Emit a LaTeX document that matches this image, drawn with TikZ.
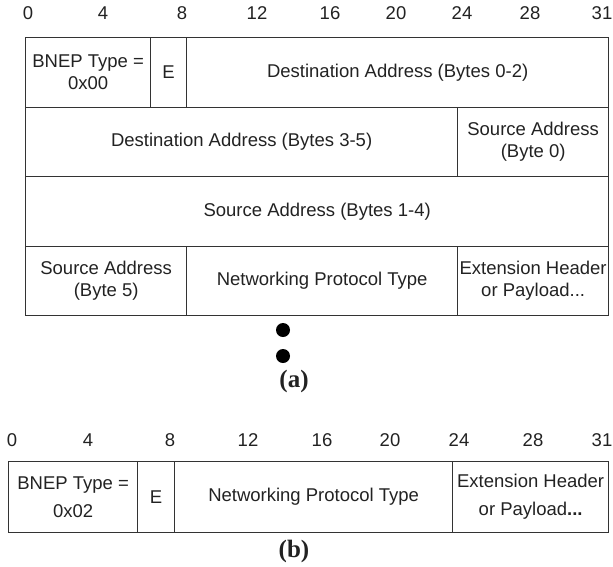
\documentclass[tikz,border=0pt]{standalone}
\usepackage{fontspec}
\setmainfont{Liberation Sans}
\newfontfamily\capfont{Liberation Serif}
\definecolor{linec}{HTML}{333333}
\definecolor{txtc}{HTML}{222222}
\begin{document}
\begin{tikzpicture}[x=1pt,y=-1pt,
  cell/.style={draw=linec, line width=1.3pt, anchor=north west, inner sep=0pt,
    align=center, text=txtc, font=\fontsize{18.5}{22}\selectfont},
  bitnum/.style={text=txtc, inner sep=0pt, font=\fontsize{18.5}{22}\selectfont},
  caplabel/.style={text=txtc, inner sep=0pt, font=\capfont\bfseries\fontsize{25}{28}\selectfont},
  dotmark/.style={circle, fill=black, inner sep=0pt, minimum size=14pt}
]
\useasboundingbox (0,0) rectangle (613,566);
% ---------- (a) ----------
\foreach \n/\x in {0/28,4/103,8/182,12/257,16/330,20/396,24/462,28/530,31/602}
  \node[bitnum] (na\n) at (\x,13) {\n};
\node[cell, minimum width=125pt, minimum height=69.5pt] (a11) at (25,37) {BNEP Type =\\0x00};
\node[cell, minimum width=36pt, minimum height=69.5pt] (a12) at (150,37) {E};
\node[cell, minimum width=422pt, minimum height=69.5pt] (a13) at (186,37) {Destination Address (Bytes 0-2)};
\node[cell, minimum width=432pt, minimum height=69.5pt] (a21) at (25,106.5) {Destination Address (Bytes 3-5)};
\node[cell, minimum width=151pt, minimum height=69.5pt] (a22) at (457,106.5) {Source Address\\(Byte 0)};
\node[cell, minimum width=583pt, minimum height=69.5pt] (a31) at (25,176) {Source Address (Bytes 1-4)};
\node[cell, minimum width=161pt, minimum height=69.5pt] (a41) at (25,245.5) {Source Address\\(Byte 5)};
\node[cell, minimum width=271pt, minimum height=69.5pt] (a42) at (186,245.5) {Networking Protocol Type};
\node[cell, minimum width=151pt, minimum height=69.5pt] (a43) at (457,245.5) {Extension Header\\or Payload...};
\node[dotmark] (d1) at (283,330) {};
\node[dotmark] (d2) at (283,356) {};
\node[caplabel] (capa) at (294,381) {(a)};
% ---------- (b) ----------
\foreach \n/\x in {0/12,4/88,8/170,12/248,16/322,20/390,24/459,28/533,31/602}
  \node[bitnum] (nb\n) at (\x,440) {\n};
\node[cell, minimum width=129pt, minimum height=71pt, font=\fontsize{18.5}{28}\selectfont] (b1) at (8,461) {BNEP Type =\\0x02};
\node[cell, minimum width=37pt, minimum height=71pt] (b2) at (137,461) {E};
\node[cell, minimum width=278pt, minimum height=71pt] (b3) at (174,461) {Networking Protocol Type};
\node[cell, minimum width=156pt, minimum height=71pt, font=\fontsize{18.5}{28}\selectfont] (b4) at (452,461) {Extension Header\\or Payload\textbf{...}};
\node[caplabel] (capb) at (294,551) {(b)};
\end{tikzpicture}
\end{document}
